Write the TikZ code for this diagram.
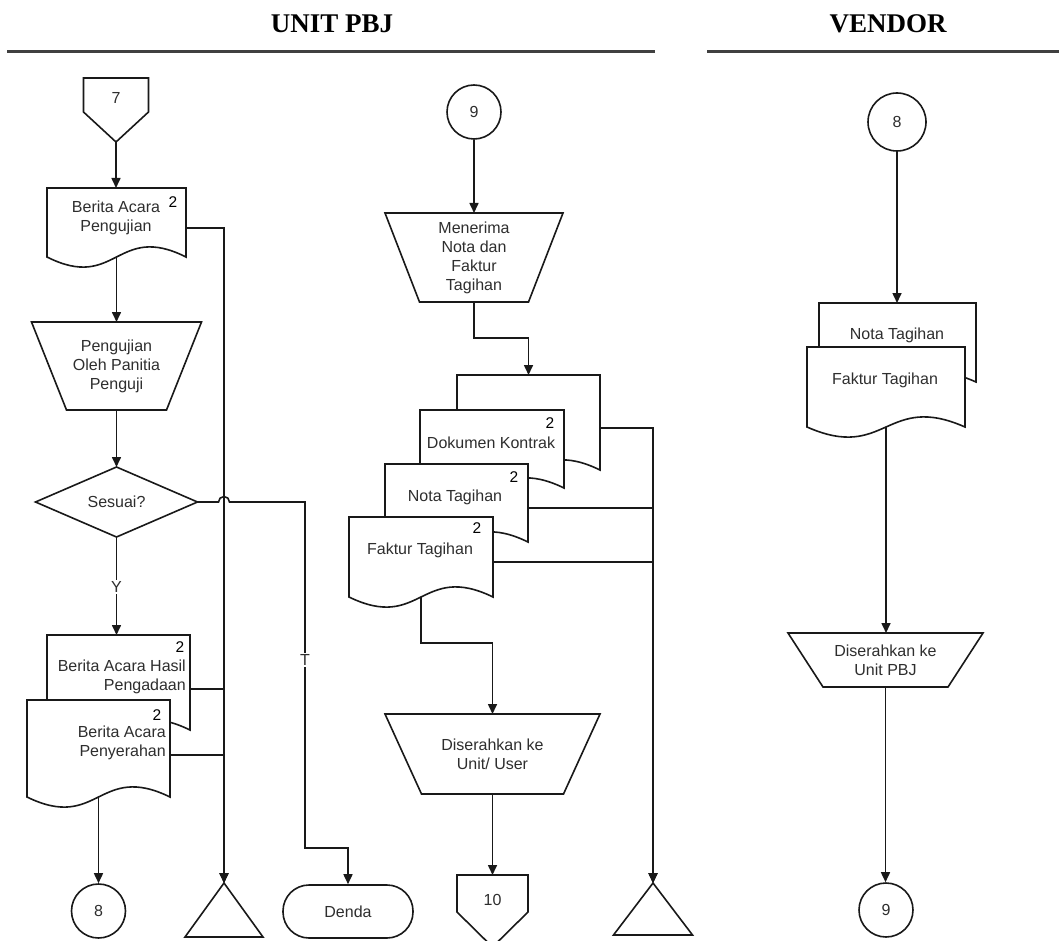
\documentclass[tikz,border=0pt]{standalone}
\usepackage{fontspec}
\setmainfont{Liberation Sans}
\newfontfamily\headfont{Liberation Serif}
\usetikzlibrary{arrows.meta,calc}

% document symbol: rectangle with a wavy lower edge, filled white, plus an invisible named box
\newcommand\docshape[5]{% name, left, top, right, base of the wave
  \pgfmathsetmacro\docW{#4-#2}\pgfmathsetmacro\docH{#5-#3}%
  \pgfmathsetmacro\docX{(#2+#4)/2}\pgfmathsetmacro\docY{(#3+#5)/2}%
  \filldraw[edgeline, fill=white] (#2,#5) -- (#2,#3) -- (#4,#3) -- (#4,#5)
    .. controls (\docX,{#5-35}) and (\docX,{#5+35}) .. (#2,#5) -- cycle;
  \node[box, minimum width=\docW, minimum height=\docH] (#1) at (\docX,\docY) {};}

% manual operation symbol: trapezoid, wide side on top
\newcommand\trapline[2]{\draw[edgeline] (#1.north west) -- (#1.north east)
  -- ([xshift=-#2]#1.south east) -- ([xshift=#2]#1.south west) -- cycle;}

% off-page connector: box with a pointed lower end
\newcommand\offline[2]{\draw[edgeline] (#1.north west) -- (#1.north east)
  -- ([yshift=#2]#1.south east) -- (#1.south) -- ([yshift=#2]#1.south west) -- cycle;}

% merge symbol (triangle)
\newcommand\triline[1]{\draw[edgeline] (#1.south west) -- (#1.north) -- (#1.south east) -- cycle;}

\begin{document}
\begin{tikzpicture}[x=1pt,y=-1pt,
  edgeline/.style={draw=black!90, line width=1.6pt},
  flow/.style={edgeline, -{Triangle[length=10pt,width=9pt]}},
  box/.style={inner sep=0pt, outer sep=0pt, draw=none},
  txt/.style={font=\fontsize{16}{19}\selectfont, text=black!82, align=center, inner sep=0pt},
  num/.style={font=\fontsize{15.5}{18}\selectfont, text=black, inner sep=0pt},
  hdr/.style={font=\headfont\bfseries\fontsize{27}{30}\selectfont, inner sep=0pt, text=black},
  hdrline/.style={draw=black!75, line width=3pt},
  conn/.style={circle, edgeline, fill=white, minimum size=54pt, inner sep=0pt,
    font=\fontsize{16}{19}\selectfont, text=black!82},
  lbl/.style={txt, fill=white, inner sep=1.5pt},
]
\useasboundingbox (0,0) rectangle (1059,941);
\fill[white] (0,0) rectangle (1059,941);

% ---------- lane headers ----------
\node[hdr, anchor=base] (hUnit) at (332,33) {UNIT PBJ};
\draw[hdrline] (7,52) -- (655,52);
\node[hdr, anchor=base] (hVendor) at (888,33) {VENDOR};
\draw[hdrline] (707,52) -- (1059,52);

% ---------- UNIT PBJ: testing branch ----------
\node[box, minimum width=65, minimum height=64] (off7) at (116,110) {};
\offline{off7}{30pt}
\node[txt] (off7t) at (116,98) {7};

\docshape{bap}{47}{188}{186}{257}
\node[txt] (bapt) at (116,218) {Berita Acara\\Pengujian};
\node[num] (bapn) at (173,202) {2};

\node[box, txt, minimum width=170, minimum height=88] (trap1) at (116.5,366) {Pengujian\\Oleh Panitia\\Penguji};
\trapline{trap1}{35}

\node[box, txt, minimum width=162, minimum height=70] (dia) at (116.5,502) {Sesuai?};
\draw[edgeline] (dia.north) -- (dia.east) -- (dia.south) -- (dia.west) -- cycle;

\docshape{bah}{47}{635}{190}{730}
\node[txt, align=right, anchor=east] (baht) at (186,676.5) {Berita Acara Hasil\\Pengadaan};
\node[num] (bahn) at (180,647) {2};

\docshape{bap2}{27}{700}{170}{797}
\node[txt, align=right, anchor=east] (bap2t) at (166,742.5) {Berita Acara\\Penyerahan};
\node[num] (bap2n) at (157,715) {2};

\node[conn] (c8) at (98.5,911) {8};
\node[box, minimum width=78, minimum height=54] (tri1) at (224,910) {};
\triline{tri1}
\node[txt, draw=black!90, line width=1.6pt, rounded corners=26pt,
  minimum width=130, minimum height=53] (denda) at (348,911.5) {Denda};

\coordinate (jA) at (224,228);
\coordinate (jB) at (224,689);
\coordinate (jC) at (224,755);
\coordinate (jH) at (224,502);
\coordinate (jT) at (305,848);

\draw[flow] (off7.south) -- (off7.south |- bap.north);
\draw[flow] (bap.south) -- (bap.south |- trap1.north);
\draw[flow] (trap1.south) -- (trap1.south |- dia.north);
\draw[flow] (bap.east |- jA) -- (jA) -- (tri1.north);
\draw[flow] (bah.east |- jB) -- (jB) -- (tri1.north);
\draw[flow] (bap2.east |- jC) -- (jC) -- (tri1.north);
\draw[flow] (dia.south) -- (dia.south |- bah.north);
\node[lbl] (lblY) at (116.5,587) {Y};
\draw[flow] (dia.east) -- ([xshift=-5.5pt]jH) arc[start angle=180, end angle=0, radius=5.5pt]
  -- (jT |- jH) -- (jT) -| (denda.north);
\node[lbl] (lblT) at (305,660) {T};
\draw[flow] (bap2.south) -- (bap2.south |- c8.north);

% ---------- UNIT PBJ: invoice branch ----------
\node[conn] (c9a) at (474,112) {9};
\node[box, txt, minimum width=178, minimum height=89] (trap2) at (474,257.5) {Menerima\\Nota dan\\Faktur\\Tagihan};
\trapline{trap2}{34.5}

\docshape{dback}{457}{375}{600}{470}
\docshape{dk}{420}{410}{564}{488}
\node[txt] (dkt) at (491,443) {Dokumen Kontrak};
\node[num] (dkn) at (550,423) {2};
\docshape{nt}{385}{464}{528}{542}
\node[txt] (ntt) at (455,497) {Nota Tagihan};
\node[num] (ntn) at (514,477) {2};
\docshape{ft}{349}{517}{493}{597}
\node[txt] (ftt) at (420,550) {Faktur Tagihan};
\node[num] (ftn) at (477,528) {2};

\node[box, txt, minimum width=215, minimum height=80] (trap3) at (492.5,754) {Diserahkan ke\\Unit/ User};
\trapline{trap3}{36.5}
\node[box, minimum width=71, minimum height=72] (off10) at (492.5,911) {};
\offline{off10}{35pt}
\node[txt] (off10t) at (492.5,900) {10};
\node[box, minimum width=79, minimum height=52] (tri2) at (653,909) {};
\triline{tri2}

\coordinate (jD) at (653,428);
\coordinate (jE) at (653,508);
\coordinate (jF) at (653,562);

\draw[flow] (c9a.south) -- (c9a.south |- trap2.north);
\draw[flow] (trap2.south) -- ++(0,36) -| (dback.north);
\draw[flow] (dback.east |- jD) -- (jD) -- (tri2.north);
\draw[flow] (nt.east |- jE) -- (jE) -- (tri2.north);
\draw[flow] (ft.east |- jF) -- (jF) -- (tri2.north);
\draw[flow] (ft.south) -- ++(0,46) -| (trap3.north);
\draw[flow] (trap3.south) -- (off10.north);

% ---------- VENDOR ----------
\node[conn, minimum size=58pt] (c8v) at (897,122) {8};
\docshape{vn}{819}{303}{976}{382}
\node[txt] (vnt) at (897,335) {Nota Tagihan};
\docshape{vf}{807}{347}{965}{427}
\node[txt] (vft) at (885,380) {Faktur Tagihan};
\node[box, txt, minimum width=195, minimum height=54] (trap4) at (885.5,660) {Diserahkan ke\\Unit PBJ};
\trapline{trap4}{35}
\node[conn] (c9v) at (886,910) {9};

\draw[flow] (c8v.south) -- (c8v.south |- vn.north);
\draw[flow] (vf.south) -- (vf.south |- trap4.north);
\draw[flow] (trap4.south) -- (trap4.south |- c9v.north);
\end{tikzpicture}
\end{document}
